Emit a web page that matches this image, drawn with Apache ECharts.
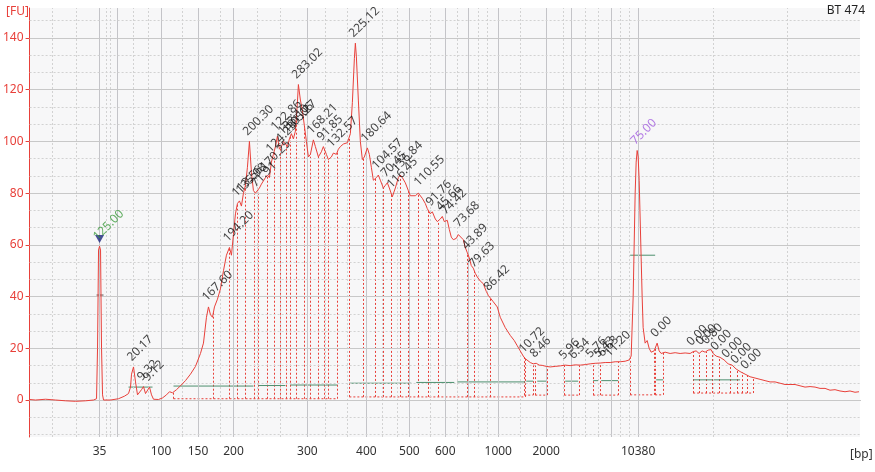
<!DOCTYPE html>
<html><head><meta charset="utf-8">
<script src="https://cdn.jsdelivr.net/npm/echarts@6/dist/echarts.min.js"></script>
<style>html,body{margin:0;padding:0;background:#fff}#c{width:875px;height:472px}</style>
</head><body><div id="c"></div>
<script>
// migration position (time units) and fluorescence [FU]
const trace = [[29,0.2],[35,0],[45,0.3],[55,0],[65,-0.3],[75,-0.5],[85,-0.3],[93,0],[96,0.5],[97,20],[98,58],[99,59.5],[100,58],[101,20],[102,2],[103,0],[110,0],[118,0.5],[124,1.5],[128,2.5],[130,5],[131,10],[133,12.8],[135,7],[137,2],[139,1.5],[141,4],[143,5.2],[145,2.5],[147,3],[149,5],[151,2],[153,0.3],[158,0.2],[162,0.8],[166,2],[169,3.2],[172,2.8],[176,4],[180,5.5],[185,7.5],[190,10],[195,13],[200,18],[203,22],[206,32],[208,36],[210,33],[212,32],[214,36],[217,39],[220,43],[223,50],[226,56],[229,59],[231,56],[233,64],[235,72],[237,76],[239,77],[241,75],[243,80],[245,83],[247,90],[249,100],[251,88],[253,81],[255,80],[257,80],[259,82],[261,83.5],[263,84],[265,86],[267,87],[269,86],[271,92],[273,95],[275,98],[277,102],[279,97],[281,98],[283,100],[285,100.6],[287,98],[289,101],[291,103],[293,101],[295,104],[297,115],[298,122],[300,116],[302,112],[304,106],[306,100],[308,94],[310,95],[313,100.6],[315,98],[318,94],[321,96],[323,98],[326,95],[328,93],[331,94],[333,95.5],[336,95],[338,97],[340,98],[343,99],[345,99.5],[347,99.5],[350,103],[352,115],[354,132],[355,138],[356,133],[358,116],[360,100],[362,93],[364,94],[367,97.5],[369,95],[371,90],[373,85],[376,86],[378,87],[380,85],[383,82],[385,83],[387,84],[389,82],[392,78.6],[395,82],[398,86],[400,87],[402,86],[405,84],[408,81],[410,79],[412,78.6],[415,79],[418,80],[420,80.5],[422,78],[425,76],[427,74],[430,72],[432,72.8],[435,70],[437,69],[440,70],[442,71],[444,69],[447,69.5],[449,66],[451,63],[453,62],[456,62.5],[458,64],[460,64.6],[463,62],[465,59],[467,57],[469,55],[471,52],[473,51],[475,49],[477,47.6],[480,46],[483,45],[486,42],[488,40.5],[490,40],[493,38],[497,36],[500,32],[505,28],[510,25],[514,23],[517,21],[520,19],[523,17],[525,16],[527,15.5],[530,14.5],[533,14],[536,14.2],[539,13.5],[542,13.4],[546,13],[550,12.8],[555,13],[560,13.2],[565,13.5],[570,13.3],[575,13.6],[580,13.5],[585,13.7],[590,14],[595,14.2],[600,14.3],[605,14.5],[610,14.5],[615,14.8],[620,14.8],[625,15],[629,15.5],[631,17],[633,40],[635,80],[636,92],[637,96.5],[638,94],[639,85],[640,70],[641,55],[642,40],[643,28],[645,22],[647,23],[649,20],[651,18.5],[654,19],[657,22],[659,19],[661,18],[665,18.5],[670,18],[675,18.3],[680,18],[685,18.2],[690,18],[693,18.7],[696,19],[699,18],[702,19],[705,18.5],[708,19.3],[711,19.5],[713,18],[716,17],[720,16.5],[724,15.5],[728,14],[732,13.5],[736,12],[740,11],[745,10],[750,9],[755,8.5],[760,8],[765,7.5],[770,7],[775,7],[780,6.5],[785,6],[790,6],[795,6],[800,5.5],[805,5],[810,5.2],[815,5],[820,4.5],[825,4.5],[830,3.8],[835,4],[840,3.5],[845,3.2],[850,3.5],[855,3],[859,3.2]];

const peakT = [99,133,143,149,208,229,238,242,249,257,266,272,277,284,289,292,298,313,323,333,355,367,378,387,393,398,420,432,442,447,460,468,475,490,525,536,565,575,592,600,604,611,637,657,693,702,708,717,728,737,747];
const peakLabel = ['125.00','20.17','9.32','9.12','167.60','194.20','113.56','135.98','200.30','71.91','170.25','124.23','122.86','133.10','131.06','105.27','283.02','168.21','91.85','132.57','225.12','180.64','104.57','70.45','116.45','136.84','110.55','91.76','45.66','74.42','73.68','43.89','79.63','86.42','10.72','8.46','5.96','6.54','5.76','5.43','6.63','11.20','75.00','0.00','0.00','0.00','0.80','0.00','0.00','0.00','0.00'];
const lowerMarkerLabel = '125.00';
const upperMarkerLabel = '75.00';

const tickPos = [99,117,160.5,197.5,233,307,366,409,445,468,498,546,571,611,638];
const tickText = ['35','','100','150','200','300','400','500','600','','1000','2000','','','10380'];
const minorXGrid = [52,76,106,110,133,148,182,220,257,280,325,347,382,397,430,457,478,487,520,563,585,598,620,629,713,787];
const yTicks = [0,20,40,60,80,100,120,140];

// peak-table regions: [start, end, floor]
const regions = [[173,337,0.5],[349,525,1.2],[524,533,1.9],[535,547,1.9],[564,579,1.9],[593,618,1.9],[630,654,2.0],[655,663,2.0],[693,753,2.7]];
const cuts = [213,229,237,245,254,258,267,274,280,286,290,296,304,310,318,324,328,363,375,383,391,400,408,418,428,438,445,457,467,474,490,600,699,706,712,719,730,737,742,747];
// baselines: [start, end, level]
const baselines = [[128,152,5.0],[173,253,5.4],[258,285,5.6],[290,337,5.8],[349,411,6.5],[416,454,6.8],[457,525,7.0],[526,533,7.3],[537,546,7.3],[565,578,7.3],[593,598,7.5],[601,618,7.5],[630,655,56],[656,663,7.8],[693,740,7.8]];
const markerCross = [[96,103,40.6]];

function interp(t){
  for(let i=1;i<trace.length;i++){
    if(trace[i][0]>=t){const a=trace[i-1],b=trace[i];const f=(t-a[0])/(b[0]-a[0]||1);return a[1]+f*(b[1]-a[1]);}
  }
  return trace[trace.length-1][1];
}
const RED='#e8403a';
const chart = echarts.init(document.getElementById('c'),null,{renderer:'canvas'});

const vLines=[];
regions.forEach(r=>{vLines.push([r[0],r[2],interp(r[0])]);vLines.push([r[1],r[2],interp(r[1])]);});
cuts.forEach(c=>{const r=regions.find(r=>c>=r[0]&&c<=r[1]);vLines.push([c,r?r[2]:0.5,interp(c)]);});

const labelData = peakT.map((t,i)=>{
  let col='#111';
  if(peakLabel[i]===lowerMarkerLabel&&t===99) col='#3a9a3a';
  if(peakLabel[i]===upperMarkerLabel) col='#a35ce0';
  return {value:[t,interp(t)],label:{color:col}, name:peakLabel[i]};
});

const gridMarks=[];
tickPos.forEach(v=>gridMarks.push({xAxis:v,lineStyle:{type:'solid',color:'#c4c4c8'}}));
minorXGrid.forEach(v=>gridMarks.push({xAxis:v,lineStyle:{type:[2,2],color:'#d2d2d2'}}));
for(let k=-2;k<=22;k++){const v=k*20/3; if(v<-14.3||v>151.6) continue; if(k%3===0) gridMarks.push({yAxis:v,lineStyle:{type:'solid',color:'#c8c8c8'}}); else gridMarks.push({yAxis:v,lineStyle:{type:[2,2],color:'#d2d2d2'}});}

function segRender(color,dash){
  return function(params,api){
    const p1=api.coord([api.value(0),api.value(2)]);
    const p2=api.coord([api.value(1),api.value(2)]);
    return {type:'line',shape:{x1:p1[0],y1:p1[1],x2:p2[0],y2:p2[1]},style:{stroke:color,lineWidth:1,lineDash:dash}};
  };
}
function vRender(params,api){
  const p1=api.coord([api.value(0),api.value(1)]);
  const p2=api.coord([api.value(0),api.value(2)]);
  return {type:'line',shape:{x1:Math.round(p1[0])+0.5,y1:p1[1],x2:Math.round(p2[0])+0.5,y2:p2[1]},style:{stroke:RED,lineWidth:1,lineDash:[2,2]}};
}

chart.setOption({
  animation:false,
  backgroundColor:'#ffffff',
  title:[
    {text:'[FU]',left:1,top:1,textStyle:{color:RED,fontSize:12,fontWeight:'normal',fontFamily:'Noto Sans'}},
    {text:'BT 474',right:5,top:0,textStyle:{color:'#222',fontSize:12,fontWeight:'normal',fontFamily:'Noto Sans'}},
    {text:'[bp]',left:845,top:444,textStyle:{color:'#333',fontSize:12,fontWeight:'normal',fontFamily:'Noto Sans'}}
  ],
  grid:{left:29,right:15,top:8,bottom:35,show:true,backgroundColor:'#f7f7f8',borderWidth:0},
  xAxis:{type:'value',min:29,max:860,
    axisLine:{lineStyle:{color:'#707070'}},
    axisTick:{customValues:tickPos,length:4,lineStyle:{color:'#707070'}},
    axisLabel:{customValues:tickPos.filter((v,i)=>tickText[i]!==''),formatter:v=>{const i=tickPos.indexOf(v);return i>=0?tickText[i]:'';},color:'#333',fontSize:12,fontFamily:'Noto Sans',margin:9},
    splitLine:{show:false}},
  yAxis:{type:'value',min:-14.3,max:151.6,
    axisLine:{show:true,lineStyle:{color:RED}},
    axisTick:{show:true,customValues:yTicks,length:4,lineStyle:{color:RED}},
    axisLabel:{customValues:yTicks,color:RED,fontSize:12,fontFamily:'Noto Sans',margin:6},
    splitLine:{show:false}},
  series:[
    {type:'line',data:[],silent:true,markLine:{silent:true,symbol:'none',label:{show:false},animation:false,data:gridMarks}},
    {type:'custom',data:regions,renderItem:segRender(RED,[2,2]),encode:{x:[0,1],y:2},silent:true,z:3},
    {type:'custom',data:vLines,renderItem:vRender,encode:{x:0,y:[1,2]},silent:true,z:3},
    {type:'custom',data:baselines,renderItem:segRender('#4d8f6e',null),encode:{x:[0,1],y:2},silent:true,z:4},
    {type:'custom',data:markerCross,renderItem:segRender('#555',null),encode:{x:[0,1],y:2},silent:true,z:4},
    {type:'line',data:trace,showSymbol:false,lineStyle:{color:RED,width:1},z:5,silent:true},
    {type:'scatter',data:[[99,62.3]],symbol:'triangle',symbolRotate:180,symbolSize:[9,8],itemStyle:{color:'#1a237e'},z:6,silent:true},
    {type:'scatter',data:labelData,symbolSize:1,itemStyle:{color:'rgba(0,0,0,0)'},z:7,silent:true,
      label:{show:true,formatter:p=>p.name,position:'top',distance:3,align:'left',verticalAlign:'bottom',rotate:45,fontSize:12,fontFamily:'Noto Sans'}}
  ]
});
</script></body></html>
